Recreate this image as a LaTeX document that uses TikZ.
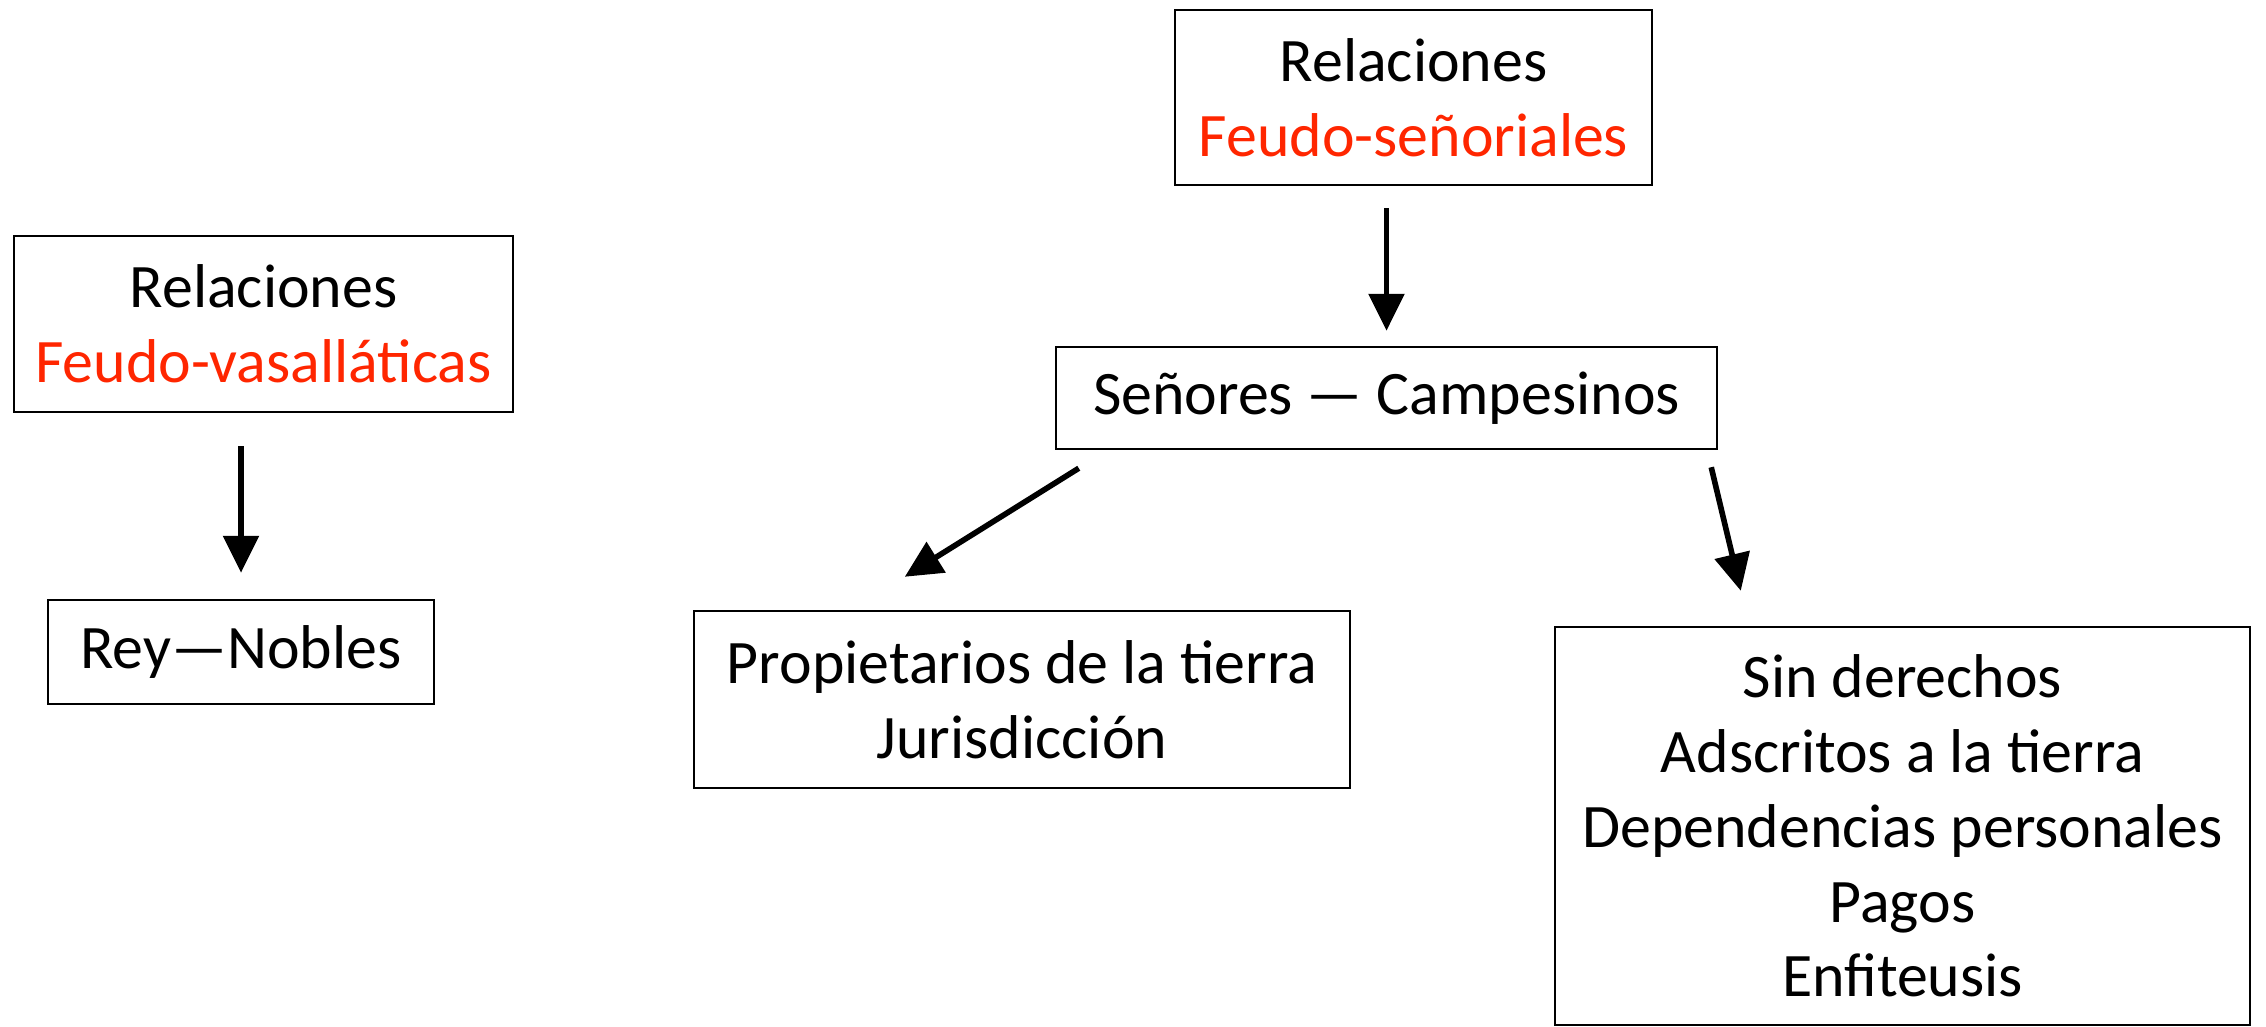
\documentclass[tikz,border=0pt]{standalone}
\usepackage{fontspec}
\setmainfont{Carlito}
\usepackage{xcolor}
\usepackage{tikz}
\usetikzlibrary{arrows.meta}
\usetikzlibrary{positioning}
\definecolor{feudored}{RGB}{255,38,0}

\begin{document}
\begin{tikzpicture}[
        x=0.1mm,
        y=-0.1mm,
        block/.style={
            rectangle,
            draw,
            line width=0.7pt,
            fill=white,
            align=center,
            inner sep=0pt,
            font=\fontsize{17.6}{21.3}\selectfont
        },
        line/.style={
            draw,
            line width=1.6pt,
            -{Triangle[length=3.7mm,width=3.5mm]}
        },
        ]
        \useasboundingbox (0,0) rectangle (2266,1027);

        \node [block,minimum width=49.9mm,minimum height=17.6mm] (feudo-vasallaticas) at (263.5,324) {Relaciones\\\textcolor{feudored}{Feudo-vasalláticas}};
        \node [block,minimum width=38.6mm,minimum height=10.4mm] (rey-nobles) at (241,652) {Rey—Nobles};
        \node [block,minimum width=47.7mm,minimum height=17.5mm] (feudo-senoriales) at (1413.5,97.5) {Relaciones\\\textcolor{feudored}{Feudo-señoriales}};
        \node [block,minimum width=66.1mm,minimum height=10.2mm] (senores-campesinos) at (1386.5,398) {Señores — Campesinos};
        \node [block,minimum width=65.6mm,minimum height=17.7mm] (propietarios) at (1022,699.5) {Propietarios de la tierra\\Jurisdicción};
        \node [block,minimum width=69.5mm,minimum height=39.8mm] (campesinos) at (1902.5,826) {Sin derechos\\Adscritos a la tierra\\Dependencias personales\\Pagos\\Enfiteusis};

        \path [line,shorten <=3.3mm,shorten >=2.6mm] (rey-nobles |- feudo-vasallaticas.south) -- (rey-nobles.north);
        \path [line,shorten <=2.2mm,shorten >=1.5mm] (senores-campesinos |- feudo-senoriales.south) -- (senores-campesinos.north);
        \path [line] ([shift={(24,18)}]senores-campesinos.south west) -- ([shift={(212,-33)}]propietarios.north west);
        \path [line] ([shift={(-7,17)}]senores-campesinos.south east) -- ([shift={(187,-35)}]campesinos.north west);
    \end{tikzpicture}
\end{document}
